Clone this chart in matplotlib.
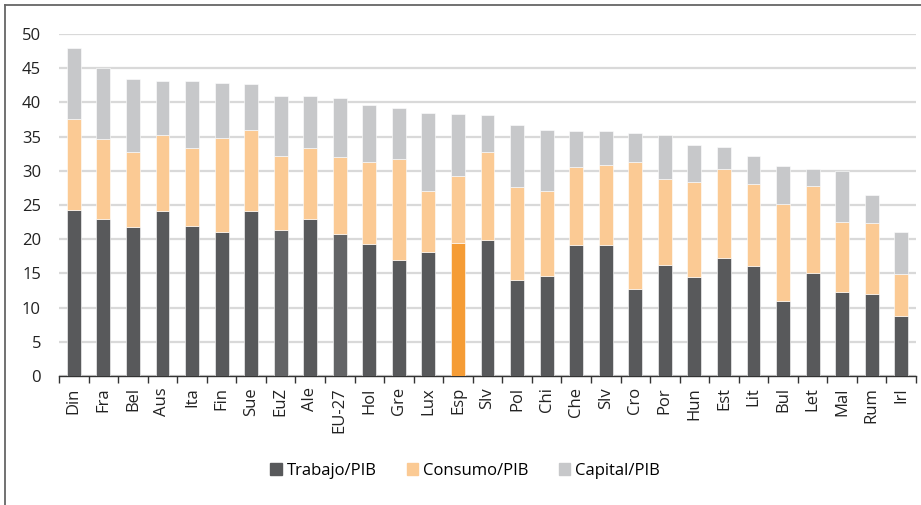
import matplotlib.pyplot as plt
from matplotlib.patches import Patch
from matplotlib.lines import Line2D
import numpy as np

paises = ["Din", "Fra", "Bel", "Aus", "Ita", "Fin", "Sue", "EuZ", "Ale", "EU-27",
          "Hol", "Gre", "Lux", "Esp", "Slv", "Pol", "Chi", "Che", "Slv", "Cro",
          "Por", "Hun", "Est", "Lit", "Bul", "Let", "Mal", "Rum", "Irl"]
# tipos implicitos (% PIB)
trabajo = [24.2, 22.9, 21.8, 24.1, 21.9, 21.0, 24.1, 21.3, 22.9, 20.8,
           19.3, 17.0, 18.2, 19.5, 19.9, 14.1, 14.6, 19.1, 19.1, 12.7,
           16.2, 14.5, 17.2, 16.1, 11.0, 15.0, 12.3, 12.0, 8.8]
consumo_top = [37.5, 34.6, 32.8, 35.3, 33.3, 34.8, 36.0, 32.2, 33.4, 32.0,
               31.3, 31.7, 27.0, 29.3, 32.7, 27.6, 27.0, 30.5, 30.9, 31.3,
               28.8, 28.3, 30.2, 28.0, 25.1, 27.8, 22.5, 22.4, 14.9]
total = [48.0, 45.0, 43.4, 43.2, 43.2, 42.9, 42.7, 40.9, 40.9, 40.6,
         39.6, 39.2, 38.5, 38.3, 38.1, 36.7, 36.0, 35.8, 35.8, 35.5,
         35.3, 33.8, 33.5, 32.1, 30.7, 30.3, 30.0, 26.4, 21.0]

consumo = [c - t for c, t in zip(consumo_top, trabajo)]
capital = [s - c for s, c in zip(total, consumo_top)]

c_trab = "#58595b"
c_cons = "#fbca94"
c_cap = "#c7c8ca"

col_trab = []
for p in paises:
    if p == "Esp":
        col_trab.append("#f59c35")
    elif p in ("EuZ", "EU-27"):
        col_trab.append("#636466")
    else:
        col_trab.append(c_trab)

plt.rcParams['font.family'] = ['Open Sans', 'DejaVu Sans']

fig = plt.figure(figsize=(9.21, 5.05), dpi=100)
ax = fig.add_axes([0.0641, 0.2554, 0.9305, 0.6773])

x = np.arange(len(paises))
w = 0.47
ax.bar(x, trabajo, w, color=col_trab, edgecolor="white", linewidth=0.4, zorder=3)
ax.bar(x, consumo, w, bottom=trabajo, color=c_cons, edgecolor="white", linewidth=0.4, zorder=3)
ax.bar(x, capital, w, bottom=consumo_top, color=c_cap, edgecolor="white", linewidth=0.4, zorder=3)

ax.set_xlim(-0.5, len(paises) - 0.5)
ax.set_ylim(0, 50)
ax.set_yticks(range(0, 51, 5))
ax.yaxis.grid(True, color="#d9d9d9", linewidth=1.6, zorder=0)
ax.tick_params(axis="y", length=0, labelsize=12, colors="#222222", pad=13)

ax.set_xticks(x)
ax.set_xticklabels(paises, rotation=90, fontsize=12, color="#222222")
ax.set_xticks(np.arange(-0.5, len(paises)), minor=True)
ax.tick_params(axis="x", which="major", length=0, pad=8)
ax.tick_params(axis="x", which="minor", length=5, width=1, color="#333333")

for s in ["top", "right", "left"]:
    ax.spines[s].set_visible(False)
ax.spines["bottom"].set_color("#333333")
ax.spines["bottom"].set_linewidth(1)

handles = [Patch(color=c_trab, label="Trabajo/PIB"),
           Patch(color=c_cons, label="Consumo/PIB"),
           Patch(color=c_cap, label="Capital/PIB")]
fig.legend(handles=handles, loc="center", bbox_to_anchor=(0.505, 0.068),
           ncol=3, frameon=False, fontsize=12, handlelength=0.7, handleheight=0.7,
           handletextpad=0.3, columnspacing=1.8)

# marco exterior (solo visible arriba e izquierda)
fig.add_artist(Line2D([0.0055, 0.0055], [0, 0.99], transform=fig.transFigure,
                      color="#666666", linewidth=1.3))
fig.add_artist(Line2D([0.0055, 1.0], [0.99, 0.99], transform=fig.transFigure,
                      color="#666666", linewidth=1.3))

fig.savefig("out.png", dpi=100)
